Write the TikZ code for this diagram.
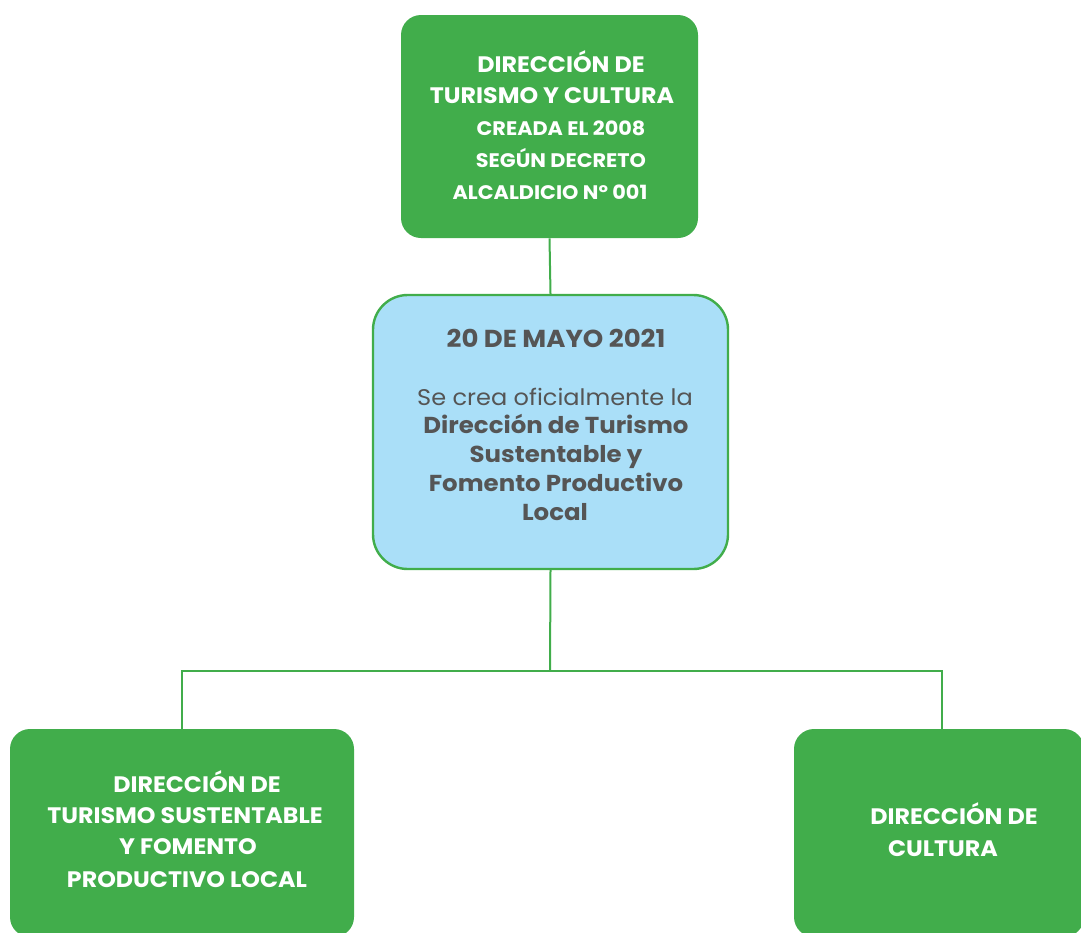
\documentclass[tikz,border=0pt]{standalone}
\usepackage{fontspec}
\setmainfont{Poppins}[FakeStretch=1.06]
\definecolor{gfill}{HTML}{41AD4B}
\definecolor{bfill}{HTML}{AADFF8}
\definecolor{tgray}{HTML}{555555}
\tikzset{
  gbox/.style={fill=gfill, draw=none, rounded corners=15pt, inner sep=0pt},
  bbox/.style={fill=bfill, draw=gfill, line width=1.8pt, rounded corners=26pt, inner sep=0pt},
  conn/.style={draw=gfill, line width=1.5pt},
  wh/.style={text=white, font=\fontsize{16.8}{18}\selectfont\bfseries, anchor=base, inner sep=0pt},
  whs/.style={text=white, font=\fontsize{14.7}{16}\selectfont\bfseries, anchor=base, inner sep=0pt},
  gb/.style={text=tgray, font=\fontsize{17.3}{18}\selectfont\bfseries, anchor=base, inner sep=0pt},
  gr/.style={text=tgray, font=\fontsize{17}{18}\selectfont, anchor=base, inner sep=0pt},
}
\begin{document}
\begin{tikzpicture}[x=0.75pt,y=-0.75pt]
\useasboundingbox (0,0) rectangle (1081,932);
\clip (0,0) rectangle (1081,932);
% boxes
\node[gbox, minimum width=297*0.75pt, minimum height=223*0.75pt] (top) at (549.5,126.5) {};
\node[bbox, minimum width=355*0.75pt, minimum height=274*0.75pt] (mid) at (550.5,432) {};
\node[gbox, minimum width=344*0.75pt, minimum height=208*0.75pt] (left) at (182,833) {};
\node[gbox, minimum width=290*0.75pt, minimum height=208*0.75pt] (right) at (939,833) {};
% connectors
\coordinate (hub) at (550,671);
\coordinate (rdrop) at (942,729);
\draw[conn] (top.south) -- (mid.north);
\draw[conn] (mid.south) -- (hub);
\draw[conn] (left.north) |- (hub) -| (rdrop);
% top text
\node[wh] (t1) at (561,72) {DIRECCIÓN DE};
\node[wh] (t2) at (552,103) {TURISMO Y CULTURA};
\node[whs] (t3) at (561,135) {CREADA EL 2008};
\node[whs] (t4) at (561,167) {SEGÚN DECRETO};
\node[whs] (t5) at (550,199) {ALCALDICIO Nº 001};
% middle text
\node[gb, font=\fontsize{18.4}{20}\selectfont\bfseries] (m1) at (556,347) {20 DE MAYO 2021};
\node[gr] (m2) at (555,405) {Se crea oficialmente la};
\node[gb] (m3) at (556,433) {Dirección de Turismo};
\node[gb] (m4) at (556,462) {Sustentable y};
\node[gb] (m5) at (556,491) {Fomento Productivo};
\node[gb] (m6) at (555,520) {Local};
% left text
\node[wh] (l1) at (197,792) {DIRECCIÓN DE};
\node[wh] (l2) at (185,823) {TURISMO SUSTENTABLE};
\node[wh] (l3) at (188,854) {Y FOMENTO};
\node[wh] (l4) at (187,887) {PRODUCTIVO LOCAL};
% right text
\node[wh] (r1) at (954,824) {DIRECCIÓN DE};
\node[wh] (r2) at (943,856) {CULTURA};
\end{tikzpicture}
\end{document}
